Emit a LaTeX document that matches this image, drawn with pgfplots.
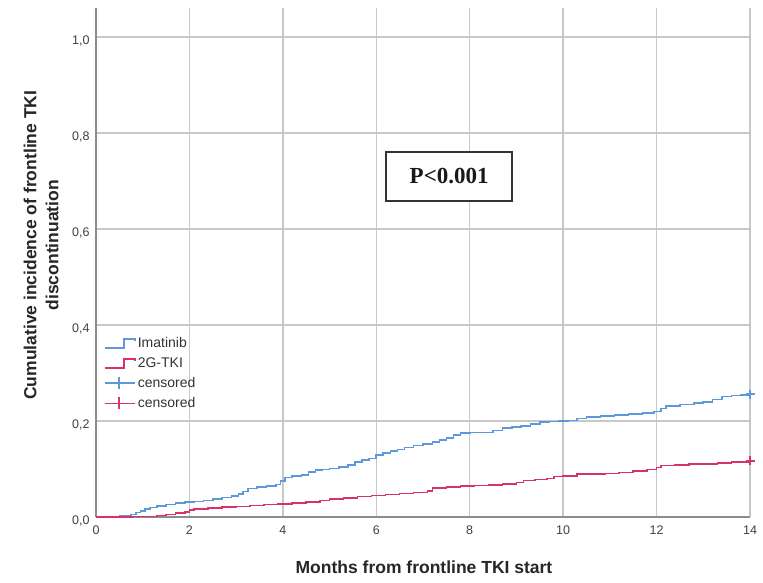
\documentclass[border=0pt]{standalone}
\usepackage{pgfplots}
\pgfplotsset{compat=1.18}
\usepackage{fontspec}
\setmainfont{Liberation Sans}
\newfontfamily\seriffont{Liberation Serif}
\definecolor{imablue}{HTML}{5E98DC}
\definecolor{tkired}{HTML}{D9326A}
\definecolor{gridgray}{HTML}{C8C8C8}
\definecolor{axgray}{HTML}{8C8C8C}
\pgfplotsset{
  stepleg/.style={legend image code/.code={\draw[##1] (0pt,-4.5pt) -- (19pt,-4.5pt) -- (19pt,4.5pt) -- (30pt,4.5pt) -- (30pt,2pt);}},
  censleg/.style={legend image code/.code={\draw[##1] (0pt,0pt) -- (30pt,0pt); \draw[##1] (14pt,-6pt) -- (14pt,6pt);}},
}
\begin{document}
\begin{tikzpicture}
\useasboundingbox (-96pt,-65pt) rectangle (667pt,517pt);
\begin{axis}[
  at={(0pt,0pt)}, anchor=south west,
  scale only axis, width=654pt, height=509pt,
  xmin=0, xmax=14, ymin=0, ymax=1.0604,
  xtick={0,2,...,14}, ytick={0,0.2,...,1.0},
  axis x line*=bottom, axis y line*=left,
  axis line style={-, draw=axgray, line width=1.6pt},
  major tick length=0pt,
  grid=major,
  major grid style={draw=gridgray, line width=1.5pt},
  clip=false,
  /pgf/number format/assume math mode=true,
  ticklabel style={font=\fontsize{12.5}{14}\selectfont, text=black!75},
  xticklabel style={yshift=-5pt},
  yticklabel style={yshift=-4pt, xshift=-3pt, /pgf/number format/.cd, fixed, fixed zerofill, precision=1, use comma},
  every axis x label/.style={at={(axis description cs:0.5015,-0.098)}, anchor=center},
  every axis y label/.style={at={(axis description cs:-0.0838,0.534)}, rotate=90, anchor=center, align=center},
  label style={font=\fontsize{17.5}{22}\selectfont\bfseries, text=black!85},
  xlabel={Months from frontline TKI start},
  ylabel={Cumulative incidence of frontline TKI\\discontinuation},
  legend style={at={(axis description cs:0.0107,0.359)}, anchor=north west, draw=none, fill=none,
    font=\fontsize{14}{16}\selectfont, text=black!80, row sep=4.5pt, inner sep=1pt},
  legend cell align=left,
]
\addplot[const plot, imablue, line width=1.6pt, stepleg]
coordinates {
(0,0) (0.5,0.002) (0.75,0.005) (0.85,0.009) (0.95,0.013) (1.05,0.017) (1.15,0.020) (1.3,0.023)
(1.5,0.026) (1.7,0.029) (1.9,0.031) (2.1,0.032) (2.3,0.034) (2.5,0.038) (2.7,0.041) (2.9,0.044)
(3.05,0.048) (3.15,0.053) (3.25,0.059) (3.45,0.062) (3.65,0.065) (3.85,0.068) (3.95,0.075) (4.05,0.082)
(4.2,0.085) (4.4,0.088) (4.55,0.094) (4.7,0.098) (4.85,0.099) (5.0,0.101) (5.2,0.104) (5.4,0.108)
(5.55,0.114) (5.7,0.119) (5.85,0.122) (6.0,0.129) (6.15,0.133) (6.3,0.137) (6.45,0.141) (6.6,0.145)
(6.8,0.149) (7.0,0.152) (7.2,0.156) (7.35,0.160) (7.5,0.165) (7.65,0.171) (7.8,0.175) (8.0,0.176)
(8.3,0.176) (8.5,0.180) (8.7,0.185) (8.9,0.188) (9.1,0.190) (9.3,0.194) (9.5,0.198) (9.7,0.199)
(9.9,0.200) (10.1,0.201) (10.3,0.205) (10.5,0.208) (10.8,0.210) (11.1,0.213) (11.4,0.215) (11.7,0.217)
(11.95,0.220) (12.1,0.226) (12.2,0.231) (12.5,0.234) (12.8,0.237) (13.0,0.240) (13.2,0.245) (13.4,0.251)
(13.6,0.253) (13.8,0.254) (14.0,0.256)
};
\addlegendentry{Imatinib}
\addplot[const plot, tkired, line width=1.6pt, stepleg]
coordinates {
(0,0) (0.8,0.001) (1.3,0.003) (1.5,0.005) (1.7,0.008) (1.9,0.011) (2.0,0.014) (2.1,0.017)
(2.4,0.019) (2.7,0.021) (3.0,0.022) (3.3,0.024) (3.6,0.026) (3.9,0.027) (4.2,0.029) (4.5,0.031)
(4.8,0.034) (5.0,0.037) (5.3,0.040) (5.6,0.043) (5.9,0.045) (6.2,0.047) (6.5,0.049) (6.8,0.051)
(7.1,0.054) (7.2,0.060) (7.5,0.062) (7.8,0.064) (8.1,0.066) (8.4,0.067) (8.7,0.069) (9.0,0.072)
(9.15,0.076) (9.4,0.078) (9.65,0.080) (9.8,0.084) (10.0,0.086) (10.3,0.089) (10.6,0.090) (10.9,0.091)
(11.2,0.093) (11.5,0.096) (11.8,0.099) (12.0,0.103) (12.1,0.107) (12.4,0.108) (12.7,0.110) (13.0,0.111)
(13.3,0.113) (13.6,0.115) (14.0,0.117)
};
\addlegendentry{2G-TKI}
\addplot[only marks, imablue, mark=+, mark size=4.5pt, line width=1.6pt, censleg]
coordinates {(14.0,0.256)};
\addlegendentry{censored}
\addplot[only marks, tkired, mark=+, mark size=4.5pt, line width=1.6pt, censleg]
coordinates {(14.0,0.117)};
\addlegendentry{censored}
\node[draw=black!80, line width=1.8pt, fill=white, minimum width=126pt, minimum height=49pt,
  font=\fontsize{23}{26}\selectfont\seriffont\bfseries, text=black!90] at (axis cs:7.56,0.71) {P<0.001};
\end{axis}
\end{tikzpicture}
\end{document}
